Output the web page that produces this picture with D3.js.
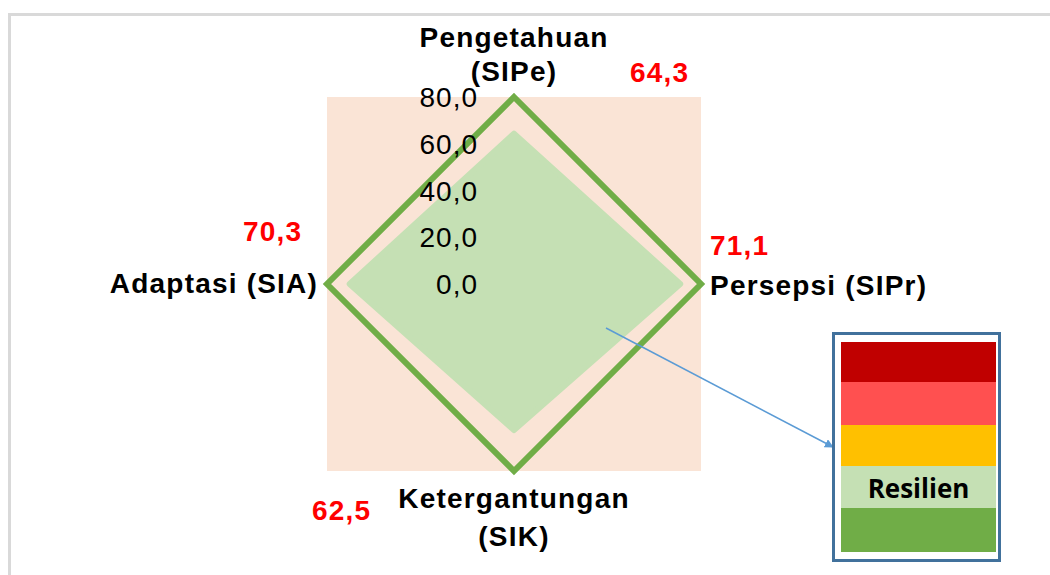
<!DOCTYPE html>
<html>
<head>
<meta charset="utf-8">
<script src="https://cdn.jsdelivr.net/npm/d3@7"></script>
<style>
  html, body { margin: 0; padding: 0; background: #fff; }
  svg { display: block; }
  text { font-family: "Liberation Sans", Arial, sans-serif; }
</style>
</head>
<body>
<svg id="chart" width="1050" height="575"></svg>
<script>
// ---- data ----
const axesLabels = [["Pengetahuan", "(SIPe)"], ["Persepsi (SIPr)"], ["Ketergantungan", "(SIK)"], ["Adaptasi (SIA)"]];
const seriesValues = [64.3, 71.1, 62.5, 70.3];
const referenceValues = [80, 80, 80, 80];
const valueLabels = ["64,3", "71,1", "62,5", "70,3"];
const tickValues = [0, 20, 40, 60, 80];
const tickLabels = ["0,0", "20,0", "40,0", "60,0", "80,0"];
const legendColors = ["#c00000", "#ff5050", "#ffc000", "#c5e0b4", "#70ad47"];
const legendLabels = ["", "", "", "Resilien", ""];

const svg = d3.select("#chart");
const cx = 514, cy = 284, R = 187;
const r = d3.scaleLinear().domain([0, 80]).range([0, R]);
const angle = d3.scaleLinear().domain([0, axesLabels.length]).range([0, 2 * Math.PI]);

// outer frame
svg.append("rect").attr("x", 9.5).attr("y", 14.5).attr("width", 1100).attr("height", 600)
  .attr("fill", "none").attr("stroke", "#d9d9d9").attr("stroke-width", 3);

const g = svg.append("g").attr("transform", `translate(${cx},${cy})`);

// plot background
g.append("rect").attr("x", -r(80)).attr("y", -r(80)).attr("width", 2 * r(80)).attr("height", 2 * r(80))
  .attr("fill", "#fae4d6");

const radial = d3.lineRadial().angle((d, i) => angle(i)).radius(d => r(d)).curve(d3.curveLinearClosed);

// series fill
g.append("path").attr("d", radial(seriesValues))
  .attr("fill", "#c5e0b4").attr("stroke", "#c5e0b4").attr("stroke-width", 6).attr("stroke-linejoin", "round");

// reference line
g.append("path").attr("d", radial(referenceValues))
  .attr("fill", "none").attr("stroke", "#70ad47").attr("stroke-width", 6).attr("stroke-linejoin", "miter");

// tick labels
g.selectAll("text.tick").data(tickValues).enter().append("text")
  .attr("class", "tick")
  .attr("x", -36).attr("y", d => -r(d) + 10)
  .attr("text-anchor", "end")
  .attr("font-size", 28).attr("letter-spacing", 1)
  .attr("fill", "#000")
  .text((d, i) => tickLabels[i]);

// axis labels
const axisLabelPos = [
  { x: 0, y: 47 - cy, anchor: "middle", dy: 34 },
  { x: 710 - cx, y: 295 - cy, anchor: "start", dy: 0 },
  { x: 0, y: 508 - cy, anchor: "middle", dy: 38 },
  { x: 318 - cx, y: 293 - cy, anchor: "end", dy: 0 }
];
axesLabels.forEach((lines, i) => {
  const p = axisLabelPos[i];
  const t = g.append("text").attr("text-anchor", p.anchor).attr("font-size", 28)
    .attr("font-weight", "bold").attr("letter-spacing", 1.2).attr("fill", "#000");
  lines.forEach((ln, j) => {
    t.append("tspan").attr("x", p.x).attr("y", p.y + j * p.dy).text(ln);
  });
});

// value labels
const valuePos = [[630, 82], [710, 255], [312, 520], [243, 241]];
g.selectAll("text.val").data(valueLabels).enter().append("text")
  .attr("class", "val")
  .attr("x", (d, i) => valuePos[i][0] - cx).attr("y", (d, i) => valuePos[i][1] - cy)
  .attr("font-size", 28).attr("font-weight", "bold").attr("letter-spacing", 1.2)
  .attr("fill", "#ff0000").text(d => d);

// arrow
const defs = svg.append("defs");
defs.append("marker").attr("id", "arrow").attr("viewBox", "0 0 10 10")
  .attr("refX", 9).attr("refY", 5).attr("markerWidth", 9).attr("markerHeight", 9)
  .attr("markerUnits", "userSpaceOnUse").attr("orient", "auto")
  .append("path").attr("d", "M0,0 L10,5 L0,10 Z").attr("fill", "#5b9bd5");
svg.append("line").attr("x1", 606).attr("y1", 328).attr("x2", 833).attr("y2", 447)
  .attr("stroke", "#5b9bd5").attr("stroke-width", 1.5).attr("marker-end", "url(#arrow)");

// legend
const legendX = 841, legendW = 155;
const bandEdges = [342, 382, 425, 466, 508, 552];
const lg = svg.append("g");
lg.append("rect").attr("x", 833.5).attr("y", 333.5).attr("width", 166).attr("height", 227)
  .attr("fill", "#fff").attr("stroke", "#41719c").attr("stroke-width", 3);
lg.selectAll("rect.band").data(legendColors).enter().append("rect")
  .attr("class", "band")
  .attr("x", legendX).attr("y", (d, i) => bandEdges[i])
  .attr("width", legendW).attr("height", (d, i) => bandEdges[i + 1] - bandEdges[i])
  .attr("fill", d => d);
lg.selectAll("text.band").data(legendLabels).enter().append("text")
  .attr("class", "band")
  .attr("x", legendX + legendW / 2).attr("y", (d, i) => bandEdges[i + 1] - 10)
  .attr("text-anchor", "middle")
  .style("font-family", "'Open Sans', sans-serif")
  .attr("font-size", 26).attr("font-weight", "bold").attr("fill", "#000")
  .text(d => d);
</script>
</body>
</html>
